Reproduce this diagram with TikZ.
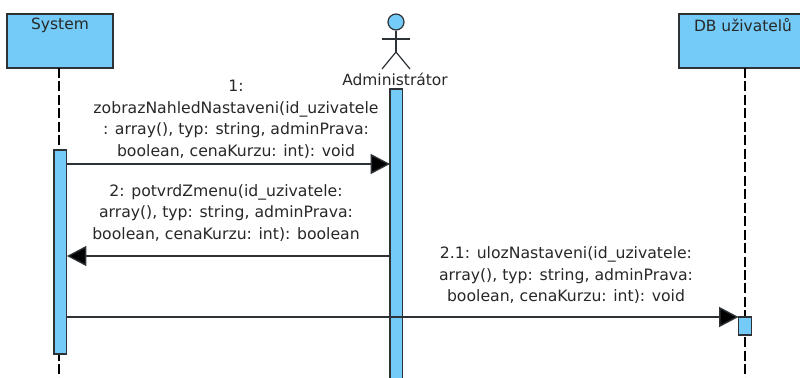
\documentclass[tikz,border=0pt]{standalone}
\usepackage{fontspec}
\setmainfont{DejaVu Sans}
\usetikzlibrary{arrows.meta}
\definecolor{umlblue}{RGB}{116,203,247}
\definecolor{umlline}{RGB}{45,50,55}
\definecolor{umltext}{RGB}{40,40,40}
\begin{document}
\begin{tikzpicture}[x=0.75pt,y=-0.75pt,
  headbox/.style={draw=umlline,fill=umlblue,line width=1pt,rectangle,inner sep=0pt,outer sep=0pt,anchor=north west},
  activation/.style={draw=umlline,fill=umlblue,line width=1pt,rectangle,inner sep=0pt,outer sep=0pt,anchor=north west,minimum width=9.6pt},
  lifeline/.style={draw=black,line width=0.9pt,dash pattern=on 7.5pt off 2.6pt},
  message/.style={draw=umlline,line width=1.05pt,-{Triangle[length=14.5pt,width=15pt,fill=black]}},
  msgtext/.style={text=umltext,font=\fontsize{11.75pt}{16.1pt}\selectfont,align=center,inner sep=0pt},
  headtext/.style={text=umltext,font=\fontsize{11.6pt}{14pt}\selectfont,inner sep=0pt},
  actorline/.style={draw=umlline,line width=0.9pt}]
\useasboundingbox (0,0) rectangle (800,378);
\fill[white] (0,0) rectangle (800,378);

% lifelines
\coordinate (sysbot) at (59,378);
\coordinate (dbbot) at (745,378);
\node[headbox,minimum width=79.5pt,minimum height=40.5pt] (sys) at (7,14) {};
\node[headbox,minimum width=99pt,minimum height=40.5pt] (db) at (679,14) {};
\coordinate (systop) at (59,68);
\coordinate (dbtop) at (745,68);
\draw[lifeline] (systop) -- (sysbot);
\draw[lifeline] (dbtop) -- (dbbot);
\node[headtext] (systxt) at (60,25.5) {System};
\node[headtext] (dbtxt) at (743,25.5) {DB uživatelů};

% actor
\node[circle,draw=umlline,fill=umlblue,line width=0.9pt,minimum size=12pt,inner sep=0pt] (head) at (396,22) {};
\coordinate (hip) at (396,52);
\coordinate (larm) at (382,39);
\coordinate (rarm) at (410,39);
\coordinate (lfoot) at (382,69);
\coordinate (rfoot) at (410,69);
\draw[actorline] (head.south) -- (hip);
\draw[actorline] (larm) -- (rarm);
\draw[actorline] (lfoot) -- (hip) -- (rfoot);
\node[headtext] (acttxt) at (395,79) {Administrátor};

% activations
\node[activation,minimum height=153pt] (sysact) at (54,150) {};
\node[activation,minimum height=223pt] (admact) at (390,89) {};
\node[activation,minimum height=13.5pt] (dbact) at (738.5,317) {};

% messages
\coordinate (a1) at (67,164);
\coordinate (b1) at (390,164);
\coordinate (a2) at (390,256);
\coordinate (b2) at (67,256);
\coordinate (a3) at (67,317);
\coordinate (b3) at (738.5,317);
\draw[message] (a1) -- (b1);
\draw[message] (a2) -- (b2);
\draw[message] (a3) -- (b3);

\node[msgtext] (m1) at (236,119.5) {1:\\zobrazNahledNastaveni(id\_uzivatele\\: array(), typ: string, adminPrava:\\boolean, cenaKurzu: int): void};
\node[msgtext] (m2) at (226,213) {2: potvrdZmenu(id\_uzivatele:\\array(), typ: string, adminPrava:\\boolean, cenaKurzu: int): boolean};
\node[msgtext] (m3) at (566,275.5) {2.1: ulozNastaveni(id\_uzivatele:\\array(), typ: string, adminPrava:\\boolean, cenaKurzu: int): void};
\end{tikzpicture}
\end{document}
